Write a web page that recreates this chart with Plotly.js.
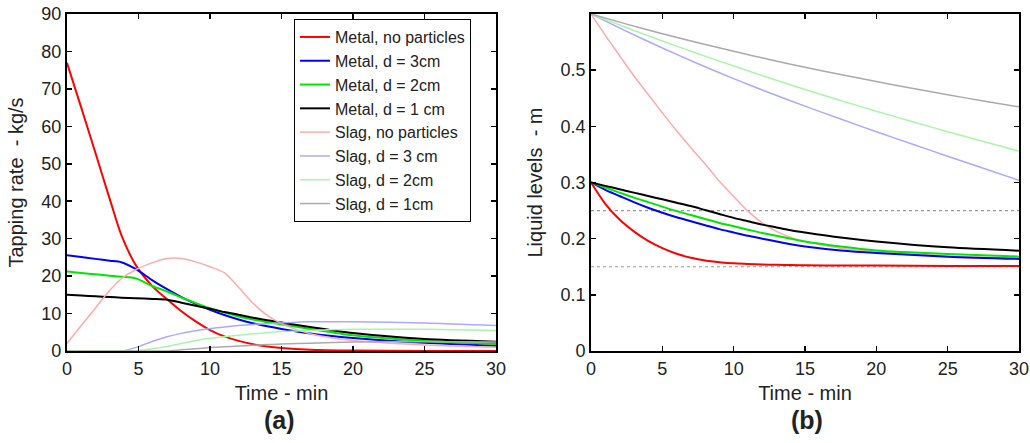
<!DOCTYPE html>
<html>
<head>
<meta charset="utf-8">
<script src="https://cdn.plot.ly/plotly-3.0.1.min.js"></script>
<style>html,body{margin:0;padding:0;background:#fff;}#chart{width:1030px;height:443px;}</style>
</head>
<body>
<div id="chart"></div>
<script>
// ---------- (a) Tapping rate, kg/s ----------
const timeA = [0,1,2,3,3.8,4.8,6,7,8,9,10,11,12,13,14,15,17,20,25,30];
const metalNoPartA = [77,65,52.8,40.5,31,23,17.2,13.8,10.6,7.9,5.6,3.9,2.7,1.8,1.2,0.8,0.35,0.12,0.03,0];
const metal3cmA    = [25.6,25.1,24.6,24.1,23.7,21.9,18.8,16.5,14.4,12.6,11.0,9.6,8.4,7.4,6.6,5.9,4.7,3.5,2.2,1.4];
const metal2cmA    = [21.2,20.8,20.5,20.1,19.8,19.4,17.3,15.9,14.3,12.8,11.4,10.3,9.2,8.4,7.7,7.1,5.9,4.2,2.7,1.9];
const metal1cmA    = [15.0,14.8,14.6,14.4,14.25,14.1,13.9,13.7,12.9,12.1,11.3,10.4,9.7,8.9,8.2,7.6,6.4,4.8,3.2,2.5];
const slagNoPartA  = [2,6.8,11.5,16.2,19.3,21.7,23.6,24.7,24.7,23.8,22.5,20.9,17,12.8,9.5,7.3,4.6,2.8,1.6,1.0];
const slag3cmA     = [0,0,0,0,0,0.9,2.6,3.8,4.7,5.4,6.0,6.4,6.8,7.1,7.3,7.5,7.8,7.8,7.5,6.8];
const slag2cmA     = [0,0,0,0,0,0,0.6,1.2,2.0,2.8,3.4,3.8,4.2,4.6,4.9,5.2,5.5,5.8,5.8,5.5];
const slag1cmA     = [0,0,0,0,0,0,0,0,0.3,0.6,0.9,1.1,1.3,1.5,1.7,1.9,2.1,2.4,2.5,2.4];

// ---------- (b) Liquid levels, m ----------
const timeB = [0,1,2,3,4,5,6,7,8,9,10,11,12,13,14,15,17.5,20,25,30];
const metalNoPartB = [0.3,0.262,0.234,0.213,0.196,0.183,0.173,0.166,0.161,0.158,0.156,0.155,0.154,0.1535,0.153,0.1525,0.152,0.152,0.1515,0.1515];
const metal3cmB    = [0.3,0.287,0.276,0.265,0.255,0.246,0.238,0.231,0.224,0.217,0.211,0.205,0.2,0.195,0.19,0.186,0.179,0.1745,0.168,0.164];
const metal2cmB    = [0.3,0.291,0.282,0.273,0.265,0.257,0.249,0.242,0.235,0.228,0.222,0.216,0.21,0.205,0.2,0.195,0.186,0.179,0.1726,0.168];
const metal1cmB    = [0.3,0.294,0.288,0.282,0.276,0.27,0.264,0.258,0.251,0.244,0.237,0.231,0.225,0.22,0.215,0.211,0.202,0.195,0.1845,0.1786];
const slagNoPartB  = [0.6,0.562,0.526,0.49,0.457,0.424,0.392,0.362,0.333,0.302,0.275,0.249,0.228,0.213,0.202,0.195,0.183,0.177,0.169,0.165];
const timeSlagB = [0,2.5,5,7.5,10,12.5,15,17.5,20,22.5,25,27.5,30];
const slag3cmB = [0.6,0.569,0.5395,0.5115,0.485,0.4598,0.436,0.413,0.3905,0.3685,0.3468,0.3253,0.304];
const slag2cmB = [0.6,0.5755,0.552,0.5293,0.5073,0.486,0.4655,0.446,0.427,0.4085,0.3905,0.373,0.3558];
const slag1cmB = [0.6,0.582,0.565,0.5488,0.5335,0.519,0.5052,0.4922,0.4797,0.4677,0.4562,0.4452,0.4347];
const refTime = [0,30];
const refLevels = [0.25,0.15];

const names = ['Metal, no particles','Metal, d = 3cm','Metal, d = 2cm','Metal, d = 1 cm',
               'Slag, no particles','Slag, d = 3 cm','Slag, d = 2cm','Slag, d = 1cm'];
const colors = ['#ff0000','#0000ff','#00e600','#000000','#ffaaaa','#aaaaff','#aaf5aa','#aaaaaa'];

const seriesA = [metalNoPartA,metal3cmA,metal2cmA,metal1cmA,slagNoPartA,slag3cmA,slag2cmA,slag1cmA];
const seriesB = [metalNoPartB,metal3cmB,metal2cmB,metal1cmB,slagNoPartB,slag3cmB,slag2cmB,slag1cmB];
const timesB = [timeB,timeB,timeB,timeB,timeB,timeSlagB,timeSlagB,timeSlagB];

const traces = [];
seriesA.forEach((ys,i)=>{
  traces.push({x:timeA,y:ys,type:'scatter',mode:'lines',name:names[i],xaxis:'x',yaxis:'y',
    line:{color:colors[i],width:i<4?2:1.5,shape:'spline',smoothing:0.7},showlegend:true});
});
refLevels.forEach(v=>{
  traces.push({x:refTime,y:[v,v],type:'scatter',mode:'lines',xaxis:'x2',yaxis:'y2',showlegend:false,
    line:{color:'#999999',width:1.2,dash:'dot'}});
});
// draw slag first then metal on (b)
[4,5,6,7,0,1,2,3].forEach(i=>{
  traces.push({x:timesB[i],y:seriesB[i],type:'scatter',mode:'lines',name:names[i],xaxis:'x2',yaxis:'y2',
    line:{color:colors[i],width:i<4?2:1.5,shape:'spline',smoothing:0.8},showlegend:false});
});

const font = 'Liberation Sans, Arial, Helvetica, sans-serif';
const axBase = {showline:true,linecolor:'#000',linewidth:2,mirror:'ticks',ticks:'inside',ticklen:5,tickwidth:1.5,
  tickcolor:'#000',showgrid:false,zeroline:false,tickfont:{family:font,size:18,color:'#222'}};

const layout = {
  width:1030,height:443,margin:{l:0,r:0,t:0,b:0},paper_bgcolor:'#fff',plot_bgcolor:'#fff',
  font:{family:font,color:'#222'},
  xaxis:Object.assign({},axBase,{domain:[0.0650,0.4816],range:[0,30],tickvals:[0,5,10,15,20,25,30],anchor:'y',
    title:{text:'Time - min',font:{family:font,size:20,color:'#222'},standoff:8}}),
  yaxis:Object.assign({},axBase,{domain:[0.2077,0.9684],range:[0,90],tickvals:[0,10,20,30,40,50,60,70,80,90],anchor:'x',
    title:{text:'Tapping rate  - kg/s',font:{family:font,size:20,color:'#222'},standoff:12}}),
  xaxis2:Object.assign({},axBase,{domain:[0.5738,0.9893],range:[0,30],tickvals:[0,5,10,15,20,25,30],anchor:'y2',
    title:{text:'Time - min',font:{family:font,size:20,color:'#222'},standoff:8}}),
  yaxis2:Object.assign({},axBase,{domain:[0.2077,0.9684],range:[0,0.6],tickvals:[0,0.1,0.2,0.3,0.4,0.5],anchor:'x2',
    title:{text:'Liquid levels  - m',font:{family:font,size:20,color:'#222'},standoff:12}}),
  legend:{x:0.2854,y:0.957,xanchor:'left',yanchor:'top',bgcolor:'#fff',bordercolor:'#000',borderwidth:1,
    font:{family:font,size:16,color:'#222'},itemwidth:30,tracegroupgap:0},
  annotations:[
    {text:'<b>(a)</b>',xref:'paper',yref:'paper',x:0.271,y:1-420/443,xanchor:'center',yanchor:'middle',showarrow:false,
     font:{family:font,size:25,color:'#222'}},
    {text:'<b>(b)</b>',xref:'paper',yref:'paper',x:0.7835,y:1-420/443,xanchor:'center',yanchor:'middle',showarrow:false,
     font:{family:font,size:25,color:'#222'}}
  ]
};
Plotly.newPlot('chart',traces,layout,{staticPlot:true,displayModeBar:false});
</script>
</body>
</html>
